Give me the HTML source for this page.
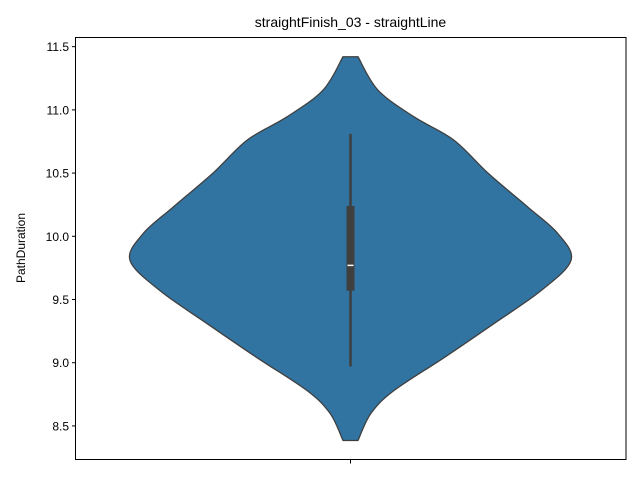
<!DOCTYPE html>
<html><head><meta charset="utf-8"><style>body{margin:0;background:#fff}svg{display:block;font-family:"Liberation Sans","DejaVu Sans",sans-serif}</style></head>
<body>
<svg id="chart" width="640" height="480">
<rect width="640" height="480" fill="#fff"/>
<text x="350.5" y="27" font-size="14" text-anchor="middle">straightFinish_03 - straightLine</text>
<text transform="translate(25,248) rotate(-90)" font-size="12" text-anchor="middle">PathDuration</text>
<g id="plot"></g>
<rect x="75.5" y="37.5" width="550.5" height="422" fill="none" stroke="#000" stroke-width="1"/>
</svg>
<script>
const yTicks = [8.5, 9.0, 9.5, 10.0, 10.5, 11.0, 11.5];
const yTickLabels = ["8.5", "9.0", "9.5", "10.0", "10.5", "11.0", "11.5"];
const kdeValues = [11.42, 11.156, 10.945, 10.76, 10.50, 10.23, 10.02, 9.81, 9.57, 9.31, 9.04, 8.78, 8.60, 8.385];
const kdeDensity = [7.5, 27.5, 63.5, 103.5, 137.5, 177.5, 207.5, 220.5, 190.5, 143.5, 93.5, 43.5, 20.5, 7.5];
const boxStats = [8.97, 9.57, 9.77, 10.24, 10.81]; // whislo, q1, median, q3, whishi
const categories = [""];

const NS = "http://www.w3.org/2000/svg";
const svg = document.getElementById('chart');
const plot = document.getElementById('plot');
const y = v => 236.3 - (v - 10.0) * 126.43;
const cx = 350.5;
const maxD = Math.max(...kdeDensity);
const w = d => d / maxD * 220.5;
function mk(tag, attrs){const e=document.createElementNS(NS,tag);for(const k in attrs)e.setAttribute(k,attrs[k]);return e;}

yTicks.forEach((t,i)=>{
  const ln = mk('line',{x1:72,x2:75.5,y1:y(t),y2:y(t),stroke:'#000'});
  
  
  svg.appendChild(ln);
  const tx = mk('text',{x:69,y:y(t)+4.5,'font-size':12,'text-anchor':'end'});
  tx.textContent = yTickLabels[i];
  
  
  svg.appendChild(tx);
});
const xt = mk('line',{x1:cx,x2:cx,y1:460,y2:463.5,stroke:'#000'});


svg.appendChild(xt);

// smooth violin path
const right = kdeValues.map((v,i)=>[cx + w(kdeDensity[i]), y(v)]);
const left = kdeValues.map((v,i)=>[cx - w(kdeDensity[i]), y(v)]).reverse();
function smooth(pts){
  let d='';
  for(let i=0;i<pts.length-1;i++){
    const p0=pts[Math.max(i-1,0)],p1=pts[i],p2=pts[i+1],p3=pts[Math.min(i+2,pts.length-1)];
    const c1=[p1[0]+(p2[0]-p0[0])/6,p1[1]+(p2[1]-p0[1])/6];
    const c2=[p2[0]-(p3[0]-p1[0])/6,p2[1]-(p3[1]-p1[1])/6];
    d+=` C${c1[0]},${c1[1]} ${c2[0]},${c2[1]} ${p2[0]},${p2[1]}`;
  }
  return d;
}
let d = `M${right[0][0]},${right[0][1]}` + smooth(right) + ` L${left[0][0]},${left[0][1]}` + smooth(left) + ' Z';
const vio = mk('path',{d:d,fill:'#3274a1',stroke:'#3f3f3f','stroke-width':1.3});


plot.appendChild(vio);

const wh = mk('line',{x1:cx,x2:cx,y1:y(boxStats[0]),y2:y(boxStats[4]),stroke:'#3f3f3f','stroke-width':2.5});


plot.appendChild(wh);
const bx = mk('rect',{x:cx-4,y:y(boxStats[3]),width:8,height:y(boxStats[1])-y(boxStats[3]),fill:'#3f3f3f'});


plot.appendChild(bx);
const md = mk('line',{x1:cx-3,x2:cx+3,y1:y(boxStats[2]),y2:y(boxStats[2]),stroke:'#fff','stroke-width':1.5});


plot.appendChild(md);
</script>
</body></html>
